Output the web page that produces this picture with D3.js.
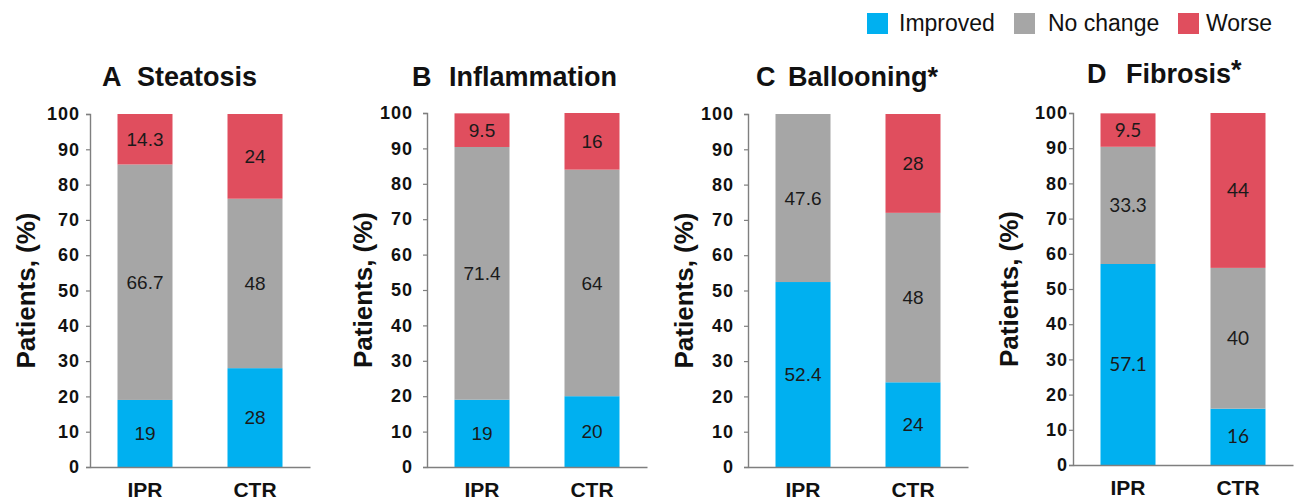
<!DOCTYPE html>
<html>
<head>
<meta charset="utf-8">
<script src="https://cdn.jsdelivr.net/npm/d3@7"></script>
<style>
  html, body { margin: 0; padding: 0; background: #fff; }
  svg { display: block; }
  text { font-family: "Liberation Sans", Arial, sans-serif; }
</style>
</head>
<body>
<svg id="chart" width="1295" height="504"></svg>
<script>
// Histological outcome per panel: share of patients (%) in each group
const panelLetters = ["A", "B", "C", "D"];
const panelTitles = ["Steatosis", "Inflammation", "Ballooning", "Fibrosis"];
const significant = [false, false, true, true];
const groups = ["IPR", "CTR"];
const seriesNames = ["Improved", "No change", "Worse"];
const improved = [[19, 28], [19, 20], [52.4, 24], [57.1, 16]];
const noChange = [[66.7, 48], [71.4, 64], [47.6, 48], [33.3, 40]];
const worse = [[14.3, 24], [9.5, 16], [0, 28], [9.5, 44]];
const yTicks = [0, 10, 20, 30, 40, 50, 60, 70, 80, 90, 100];

// Layout of the four panels
const panelLeft = [90, 427, 748, 1073];
const panelBottom = [467, 467, 467, 465];
const panelTop = [114, 113, 114, 113];
const tickLabelGap = [10, 14, 14, 5];
const titleBaseline = [86, 86, 86, 83];
const titleLetterX = [102, 412, 756, 1087];
const titleWordX = [137, 449, 788, 1126];
const axisLength = 220;

const colors = { "Improved": "#00B0F0", "No change": "#A6A6A6", "Worse": "#E04E5E" };
const seriesData = [improved, noChange, worse];

const svg = d3.select("#chart");

panelTitles.forEach((title, p) => {
  const x0 = panelLeft[p];
  const g = svg.append("g");

  const x = d3.scaleBand()
    .domain(groups)
    .range([x0, x0 + axisLength])
    .paddingInner(0.5)
    .paddingOuter(0.25);

  const y = d3.scaleLinear()
    .domain([0, 100])
    .range([panelBottom[p], panelTop[p]]);

  // stacked rows: one record per group
  const rows = groups.map((grp, gi) => {
    const r = { group: grp };
    seriesNames.forEach((s, si) => { r[s] = seriesData[si][p][gi]; });
    return r;
  });
  const stacked = d3.stack().keys(seriesNames)(rows);

  const valueFont = p === 3 ? "Lato, 'Open Sans', sans-serif" : "'Liberation Sans', Arial, sans-serif";

  stacked.forEach(layer => {
    const key = layer.key;
    g.selectAll(null)
      .data(layer.filter(d => d[1] - d[0] > 0))
      .join("rect")
      .attr("x", d => x(d.data.group))
      .attr("width", x.bandwidth())
      .attr("y", d => y(d[1]))
      .attr("height", d => y(d[0]) - y(d[1]))
      .attr("fill", colors[key]);

    g.selectAll(null)
      .data(layer.filter(d => d[1] - d[0] > 0))
      .join("text")
      .attr("x", d => x(d.data.group) + x.bandwidth() / 2)
      .attr("y", d => y((d[0] + d[1]) / 2))
      .attr("dy", "0.35em")
      .attr("text-anchor", "middle")
      .style("font-family", valueFont)
      .style("font-size", "19px")
      .attr("fill", "#1a1a1a")
      .text(d => d.data[key]);
  });

  // y axis
  const yAxis = g.append("g")
    .attr("transform", `translate(${x0},0)`)
    .call(d3.axisLeft(y).tickValues(yTicks).tickSize(4).tickPadding(tickLabelGap[p] - 4));
  yAxis.select(".domain").attr("stroke", "#7f7f7f").attr("stroke-width", 1.4);
  yAxis.selectAll(".tick line").attr("stroke", "#7f7f7f").attr("stroke-width", 1.2);
  yAxis.selectAll(".tick text")
    .attr("fill", "#111")
    .style("font-family", "'Liberation Sans', Arial, sans-serif")
    .style("font-size", "18px")
    .style("font-weight", "bold")
    .style("letter-spacing", "1px");

  // x axis
  const xAxis = g.append("g")
    .attr("transform", `translate(0,${panelBottom[p]})`)
    .call(d3.axisBottom(x).tickSize(0).tickPadding(15));
  xAxis.select(".domain").attr("stroke", "#7f7f7f").attr("stroke-width", 1.4);
  xAxis.selectAll(".tick text")
    .attr("fill", "#111")
    .attr("dy", "0.71em")
    .style("font-family", "'Liberation Sans', Arial, sans-serif")
    .style("font-size", "21px")
    .style("font-weight", "bold");

  // y axis title
  g.append("text")
    .attr("transform", `translate(${x0 - 64},${(panelBottom[p] + panelTop[p]) / 2}) rotate(-90)`)
    .attr("text-anchor", "middle")
    .attr("dy", "0.35em")
    .style("font-size", "26px")
    .style("font-weight", "bold")
    .attr("fill", "#111")
    .text("Patients, (%)");

  // panel title
  const t = g.append("text")
    .attr("y", titleBaseline[p])
    .style("font-size", "27px")
    .style("font-weight", "bold")
    .attr("fill", "#111");
  t.append("tspan").attr("x", titleLetterX[p]).text(panelLetters[p]);
  t.append("tspan").attr("x", titleWordX[p]).text(title);
  if (significant[p]) {
    t.append("tspan").attr("dy", p === 3 ? -4 : 0).text("*");
  }
});

// legend
const legendItems = [
  { name: "Improved", sx: 867, tx: 899 },
  { name: "No change", sx: 1014, tx: 1048 },
  { name: "Worse", sx: 1178, tx: 1206 }
];
const legend = svg.append("g");
legend.selectAll("rect")
  .data(legendItems)
  .join("rect")
  .attr("x", d => d.sx)
  .attr("y", 13)
  .attr("width", 21)
  .attr("height", 21)
  .attr("fill", d => colors[d.name]);
legend.selectAll("text")
  .data(legendItems)
  .join("text")
  .attr("x", d => d.tx)
  .attr("y", 31)
  .style("font-size", "23px")
  .attr("fill", "#111")
  .text(d => d.name);
</script>
</body>
</html>
